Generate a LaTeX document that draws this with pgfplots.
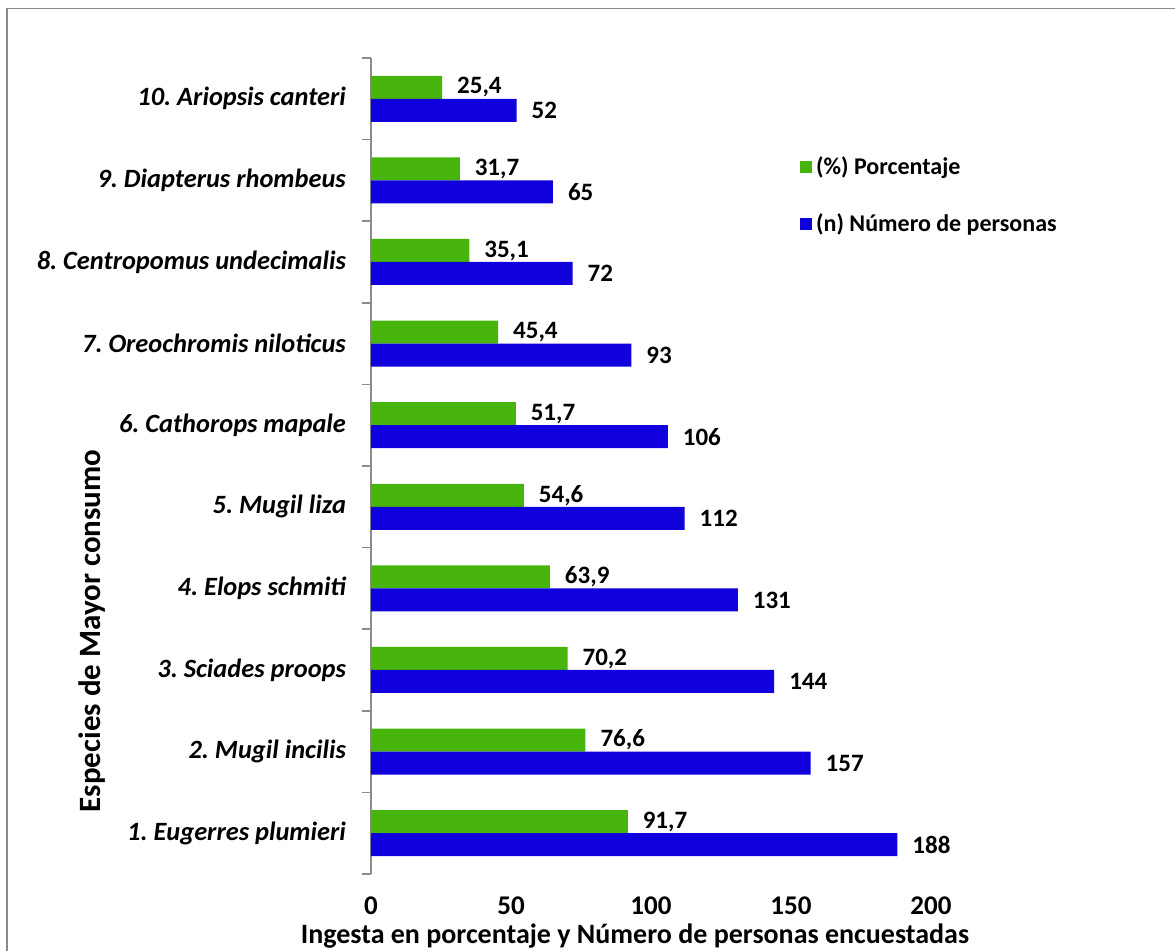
\documentclass[border=0pt]{standalone}
\usepackage{pgfplots}
\pgfplotsset{compat=1.18}
\usepackage{fontspec}
\setmainfont{Carlito}
\frenchspacing

\definecolor{barGreen}{HTML}{46B40A}
\definecolor{barBlue}{HTML}{0F00DC}
\definecolor{axisGray}{HTML}{8C8C8C}
\definecolor{frameGray}{HTML}{8A8A8A}

\begin{document}
\begin{tikzpicture}
\path[use as bounding box] (0pt,0pt) rectangle (587.5pt,-475.5pt);
\draw[frameGray, line width=0.8pt] (3.4pt,-4.2pt) rectangle (620pt,-500pt);

\begin{axis}[
  scale only axis,
  width=280pt, height=408pt,
  at={(185.5pt,-437pt)}, anchor=south west,
  xmin=0, xmax=200, ymin=0.5, ymax=10.5,
  axis y line*=left, axis x line*=bottom,
  x axis line style={draw=none},
  y axis line style={axisGray, line width=0.8pt},
  xtick={0,50,100,150,200},
  major x tick style={draw=none},
  xticklabel style={font=\bfseries\fontsize{13.5}{15}\selectfont, yshift=-5.5pt, inner sep=1pt},
  % category separators on the y axis
  ytick={0.5,1.5,...,10.5},
  yticklabels={},
  major tick length=4.5pt,
  y tick style={draw=axisGray, line width=0.8pt},
  tick align=outside,
  % category names, centred between the separators
  extra y ticks={1,...,10},
  extra y tick labels={1. Eugerres plumieri, 2. Mugil incilis, 3. Sciades proops,
    4. Elops schmiti, 5. Mugil liza, 6. Cathorops mapale,
    7. Oreochromis niloticus, {8. Centropomus undecimalis\ },
    9. Diapterus rhombeus, 10. Ariopsis canteri},
  extra y tick style={major tick length=0pt,
    yticklabel style={font=\bfseries\itshape\fontsize{13.2}{15}\selectfont, xshift=-9pt}},
  /pgf/number format/assume math mode=true,
  /pgf/number format/use comma,
  xbar, bar width=11.5pt,
  point meta=x,
  nodes near coords,
  nodes near coords style={font=\bfseries\fontsize{12.5}{15}\selectfont, anchor=west, xshift=4pt, text=black},
  legend image code/.code={\fill[#1,draw=none] (0pt,-3pt) rectangle (6pt,3pt);},
  legend style={at={(0.755,0.889)}, anchor=north west, draw=none, fill=none,
    font=\bfseries\fontsize{12}{14}\selectfont, row sep=14pt,
    /tikz/every even column/.append style={column sep=1pt}},
  legend cell align=left,
]
\addplot[fill=barGreen, draw=none, bar shift=5.75pt,
  nodes near coords={\pgfmathprintnumber[fixed,fixed zerofill,precision=1]{\pgfplotspointmeta}}]
  coordinates {(91.7,1) (76.6,2) (70.2,3) (63.9,4) (54.6,5)
               (51.7,6) (45.4,7) (35.1,8) (31.7,9) (25.4,10)};
\addlegendentry{(\%) Porcentaje}
\addplot[fill=barBlue, draw=none, bar shift=-5.75pt,
  nodes near coords={\pgfmathprintnumber[fixed,precision=0]{\pgfplotspointmeta}}]
  coordinates {(188,1) (157,2) (144,3) (131,4) (112,5)
               (106,6) (93,7) (72,8) (65,9) (52,10)};
\addlegendentry{(n) Número de personas}
\end{axis}

\node[rotate=90, font=\bfseries\fontsize{15.5}{18}\selectfont] at (46pt,-315.5pt) {Especies de Mayor consumo};
\node[anchor=base, font=\bfseries\fontsize{14}{16}\selectfont] at (317.5pt,-472pt) {Ingesta en porcentaje y Número de personas encuestadas};
\end{tikzpicture}
\end{document}
